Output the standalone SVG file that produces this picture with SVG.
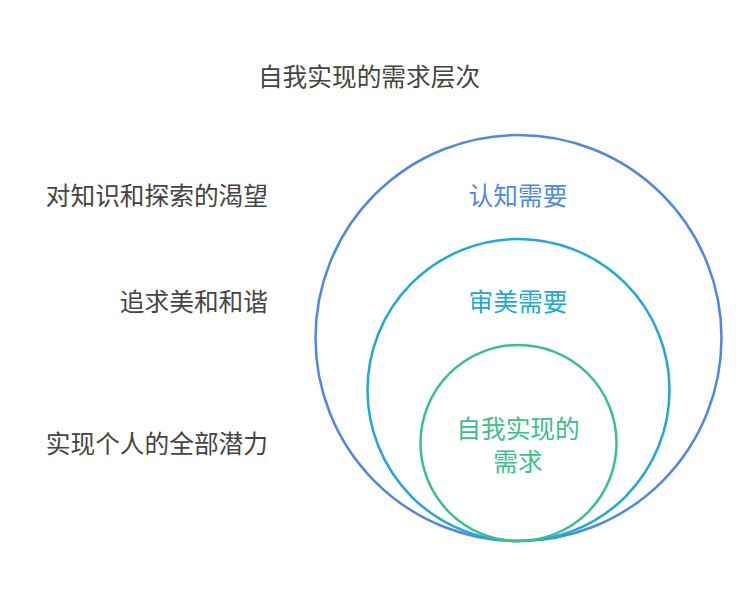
<svg xmlns="http://www.w3.org/2000/svg" width="753" height="603" viewBox="0 0 753 603">
<style>
text{font-family:"Noto Sans CJK SC","Noto Sans",sans-serif;font-size:24.7px}
.l{fill:#444;text-anchor:end}
.c{text-anchor:middle}
circle{fill:none;stroke-width:2.5}
</style>
<rect width="753" height="603" fill="#fff"/>
<text x="369" y="86" class="c" fill="#444">自我实现的需求层次</text>
<g id="outer"><circle cx="518.5" cy="338" r="203" stroke="#4f88e3"/><text x="518" y="205" class="c" fill="#4f88e3">认知需要</text></g>
<g id="middle"><circle cx="518.5" cy="390" r="151" stroke="#22a7d6"/><text x="518" y="311" class="c" fill="#22a7d6">审美需要</text></g>
<g id="inner"><circle cx="518.5" cy="443" r="98" stroke="#3cc08a"/><text x="518" y="438" class="c" fill="#3cc08a">自我实现的</text><text x="518" y="471" class="c" fill="#3cc08a">需求</text></g>
<g id="labels">
<text x="268" y="205" class="l">对知识和探索的渴望</text>
<text x="268" y="311" class="l">追求美和和谐</text>
<text x="268" y="453" class="l">实现个人的全部潜力</text>
</g>
<g id="connectors"/>
</svg>
